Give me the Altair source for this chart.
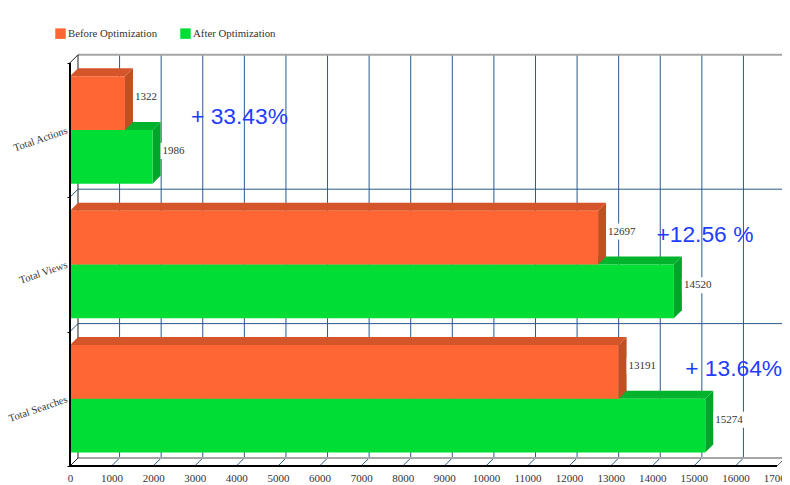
import altair as alt
import pandas as pd

categories = ["Total Searches", "Total Views", "Total Actions"]
before = [13191, 12697, 1322]
after = [15274, 14520, 1986]
gains = ["+ 13.64%", "+12.56 %", "+ 33.43%"]
gain_x = [14790, 14100, 2910]
gain_y = [0.72, 0.72, 0.60]
x_ticks = list(range(0, 17001, 1000))

DX, DY = 192, 0.0595
X_MAX = 17119
Y_MAX = 3.058
SERIF = "Liberation Serif"
NAVY = "#2a5a8c"
GREY = "#a6a6a6"

x_axis = alt.Axis(values=x_ticks, format="d", title=None, grid=False, domain=False,
                  ticks=False, labelFont=SERIF, labelFontSize=11, labelColor="#333333",
                  labelPadding=6, labelOverlap=False, labelFlush=False)
y_axis = alt.Axis(values=[0, 1, 2, 3], labels=False, title=None, grid=False, domain=False,
                  tickColor="#000000", tickSize=3)
xs = alt.Scale(domain=[0, X_MAX], nice=False, zero=False)
ys = alt.Scale(domain=[0, Y_MAX], nice=False, zero=False)


def X(field):
    return alt.X(field, type="quantitative", scale=xs, axis=x_axis)


def Y(field):
    return alt.Y(field, type="quantitative", scale=ys, axis=y_axis)


def rules(rows, color, width=1):
    df = pd.DataFrame(rows, columns=["x", "x2", "y", "y2"])
    return alt.Chart(df).mark_rule(color=color, strokeWidth=width).encode(
        x=X("x"), x2="x2:Q", y=Y("y"), y2="y2:Q",
    )


def faces(values, base, color_top, color_side):
    top, side = [], []
    for r, v in enumerate(values):
        lo, hi = r + base, r + base + 0.4
        top += [
            dict(id=r, x=0, y=hi, y2=hi),
            dict(id=r, x=DX, y=hi + DY, y2=hi),
            dict(id=r, x=v, y=hi + DY, y2=hi),
            dict(id=r, x=v + DX, y=hi + DY, y2=hi + DY),
        ]
        side += [
            dict(id=r, x=v, y=lo, y2=hi),
            dict(id=r, x=v + DX, y=lo + DY, y2=hi + DY),
        ]
    return [
        alt.Chart(pd.DataFrame(rows)).mark_area(color=c, opacity=1).encode(
            x=X("x"), y=Y("y"), y2="y2:Q", detail="id:N",
        )
        for rows, c in [(top, color_top), (side, color_side)]
    ]


def fronts(values, base, name):
    df = pd.DataFrame({
        "x": [0] * 3, "x2": values,
        "y": [r + base for r in range(3)],
        "y2": [r + base + 0.4 for r in range(3)],
        "series": [name] * 3,
    })
    return alt.Chart(df).mark_rect(opacity=1).encode(
        x=X("x"), x2="x2:Q", y=Y("y"), y2="y2:Q",
        color=alt.Color(
            "series:N",
            scale=alt.Scale(domain=["Before Optimization", "After Optimization"],
                            range=["#ff6633", "#00de35"]),
            legend=alt.Legend(
                title=None, orient="none", legendX=-15, legendY=-27, direction="horizontal",
                symbolType="square", symbolSize=110, symbolStrokeWidth=0, symbolOpacity=1,
                labelFont=SERIF, labelFontSize=10.8, labelColor="#333333",
                columnPadding=22, labelOffset=2,
            ),
        ),
    )


backdrop = [
    rules([[v + DX, v + DX, DY, 3 + DY] for v in x_ticks[1:-1]], NAVY),
    rules([[v, v + DX, 0, DY] for v in x_ticks[1:-1]], NAVY),
    rules([[DX, 17000 + DX, k + DY, k + DY] for k in (1, 2)], NAVY),
    rules([[0, DX, k, k + DY] for k in (1, 2)], NAVY),
    rules([[DX, 17000 + DX, DY, DY], [DX, 17000 + DX, 3 + DY, 3 + DY]], GREY, 2),
    rules([[17000 + DX, 17000 + DX, DY, 3 + DY], [17000, 17000 + DX, 0, DY]], "#707070"),
    rules([[DX, DX, DY, 3 + DY], [0, DX, 3, 3 + DY], [0, DX, 0, DY]], "#222222"),
]

bars = (
    faces(after, 0.10, "#00b32d", "#00a52a") + [fronts(after, 0.10, "After Optimization")]
    + faces(before, 0.50, "#d4552a", "#c04f26") + [fronts(before, 0.50, "Before Optimization")]
)

vals = pd.DataFrame({
    "value": before + after,
    "label": [str(v) for v in before + after],
    "mid": [r + 0.685 + DY for r in range(3)] + [r + 0.285 + DY for r in range(3)],
})
vals["x0"] = vals["value"] + DX
vals["x1"] = vals["x0"] + vals["label"].str.len() * 150
vals["y0"] = vals["mid"] - 0.06
vals["y1"] = vals["mid"] + 0.06

halo = alt.Chart(vals).mark_rect(color="white", opacity=1).encode(
    x=X("x0"), x2="x1:Q", y=Y("y0"), y2="y1:Q",
)
value_text = alt.Chart(vals).mark_text(
    align="left", baseline="middle", dx=2, font=SERIF, fontSize=11, color="#333333"
).encode(x=X("x0"), y=Y("mid"), text="label:N")

gain_df = pd.DataFrame({"x": gain_x, "y": [r + g for r, g in enumerate(gain_y)], "t": gains})
gain_text = alt.Chart(gain_df).mark_text(
    align="left", baseline="middle", font="Liberation Sans", fontSize=22.8, color="#1f3dff"
).encode(x=X("x"), y=Y("y"), text="t:N")

cat_df = pd.DataFrame({"c": categories, "y": [r + 0.505 for r in range(3)], "x": [0] * 3})
cat_text = alt.Chart(cat_df).mark_text(
    align="right", baseline="middle", angle=341, dx=-3, font=SERIF, fontSize=10.5, color="#333333"
).encode(x=X("x"), y=Y("y"), text="c:N")

front_lines = [
    rules([[0, 0, 0, 3]], "#000000", 2),
    rules([[0, 17000, 0, 0]], "#000000", 2),
]

chart = alt.layer(
    *backdrop, *bars, halo, value_text, gain_text, cat_text, *front_lines
).resolve_scale(color="shared").properties(
    width=712, height=411,
    padding={"left": 62, "top": 47, "right": 0, "bottom": 24},
    autosize=alt.AutoSizeParams(type="none"),
    background="white",
).configure_view(stroke=None)

chart.save("out.html", embed_options={"renderer": "svg", "actions": False})
